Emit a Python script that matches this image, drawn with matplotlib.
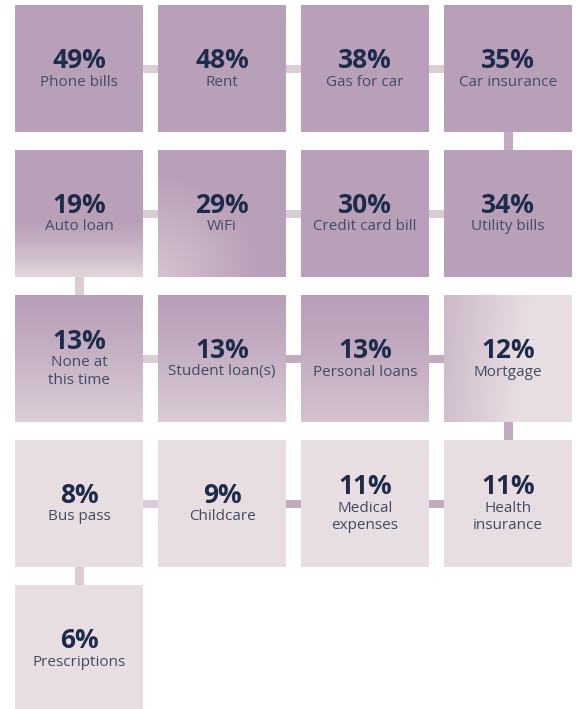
import numpy as np
import matplotlib
matplotlib.use("Agg")
import matplotlib.pyplot as plt
from matplotlib.patches import Rectangle

# ---- data (snake order) ----
categories = ["Phone bills", "Rent", "Gas for car", "Car insurance",
              "Utility bills", "Credit card bill", "WiFi", "Auto loan",
              "None at\nthis time", "Student loan(s)", "Personal loans", "Mortgage",
              "Health\ninsurance", "Medical\nexpenses", "Childcare", "Bus pass",
              "Prescriptions"]
values = [49, 48, 38, 35, 34, 30, 29, 19, 13, 13, 13, 12, 11, 11, 9, 8, 6]

# ---- style ----
W, H = 577, 709
DARK = np.array([185, 160, 185]) / 255.0
LIGHT = np.array([232, 222, 226]) / 255.0
CONN_L = "#dacdd6"
CONN_D = "#c3aac0"
NUM_C = "#1e2b4a"
LAB_C = "#414b66"
X0, Y0, PX, PY, TW, TH = 15, 5, 143, 145, 128, 127

# gradient style per tile: (kind, a, b)
grad = {6: ("corner", 0, 0.55), 7: ("down", 0.55, 0.85), 8: ("down", 0.0, 0.75),
        9: ("down", 0.0, 0.70), 10: ("down", 0.0, 0.55), 11: ("left", 0.45, 1.0)}
conn_dark = {3, 9, 10, 11, 12, 13}

fig = plt.figure(figsize=(W / 100, H / 100), dpi=100)
ax = fig.add_axes([0, 0, 1, 1])
ax.set_xlim(0, W)
ax.set_ylim(H, 0)
ax.axis("off")


def pos(i):
    r = i // 4
    c = i % 4 if r % 2 == 0 else 3 - i % 4
    return r, c


def tile_img(i, v):
    n = 64
    yy, xx = np.mgrid[0:1:n * 1j, 0:1:n * 1j]
    if i in grad:
        kind, a, b = grad[i]
        if kind == "down":
            t = (np.clip((yy - a) / (1 - a), 0, 1) ** 1.3) * b
        elif kind == "left":
            t = a + (b - a) * np.clip(xx * 1.6 - 0.1 + 0.2 * yy, 0, 1)
        else:  # bottom-left corner lighter
            d = np.sqrt((xx) ** 2 + (1 - yy) ** 2)
            t = np.clip(1 - d / 0.8, 0, 1) * b
    else:
        t = np.zeros_like(xx) if v >= 13 else np.ones_like(xx)
    img = DARK[None, None, :] * (1 - t[..., None]) + LIGHT[None, None, :] * t[..., None]
    return img


centers = []
for i, (cat, v) in enumerate(zip(categories, values)):
    r, c = pos(i)
    x0 = X0 + PX * c
    y0 = Y0 + PY * r
    centers.append((x0 + TW / 2, y0 + TH / 2, r, c))

# connectors
for i in range(len(values) - 1):
    cx1, cy1, r1, c1 = centers[i]
    cx2, cy2, r2, c2 = centers[i + 1]
    col = CONN_D if i in conn_dark else CONN_L
    if r1 == r2:
        xa, xb = sorted([cx1, cx2])
        ax.add_patch(Rectangle((xa, cy1 - 4), xb - xa, 8, color=col, zorder=1, lw=0))
    else:
        ax.add_patch(Rectangle((cx1 - 4.5, cy1), 9, cy2 - cy1, color=col, zorder=1, lw=0))

# tiles
for i, (cat, v) in enumerate(zip(categories, values)):
    cx, cy, r, c = centers[i]
    x0, y0 = cx - TW / 2, cy - TH / 2
    ax.imshow(tile_img(i, v), extent=(x0, x0 + TW, y0 + TH, y0), zorder=2,
              interpolation="bilinear", aspect="auto")
    nl = cat.count("\n") + 1
    sh = 9 * (nl - 1)
    ax.text(cx, cy - 8 - sh, f"{v}%", ha="center", va="center", fontsize=19,
            fontweight="bold", color=NUM_C, family="Open Sans", zorder=3)
    ax.text(cx, cy + 6 - sh, cat, ha="center", va="top", fontsize=11,
            color=LAB_C, family="Open Sans", zorder=3, linespacing=1.2)

ax.set_xlim(0, W)
ax.set_ylim(H, 0)
fig.savefig("out.png", dpi=100, facecolor="white")
